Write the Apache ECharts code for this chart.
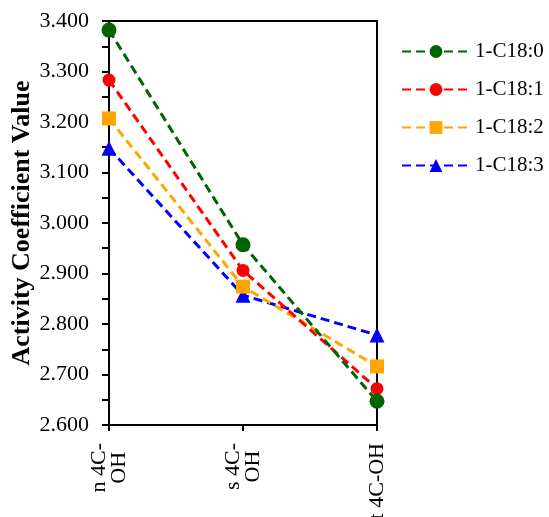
<!DOCTYPE html>
<html><head><meta charset="utf-8">
<script src="https://cdn.jsdelivr.net/npm/echarts@6/dist/echarts.min.js"></script>
<style>html,body{margin:0;padding:0;background:#fff}#c{width:549px;height:517px}</style>
</head><body><div id="c"></div>
<script>
const categories = ['n 4C-\nOH', 's 4C-\nOH', 't 4C-OH'];
const seriesNames = ['1-C18:0', '1-C18:1', '1-C18:2', '1-C18:3'];
const c180 = [3.382, 2.957, 2.647];
const c181 = [3.283, 2.906, 2.672];
const c182 = [3.207, 2.874, 2.716];
const c183 = [3.148, 2.857, 2.778];
const yTicks = { min: 2.6, max: 3.4, interval: 0.1 };

const font = 'Liberation Serif, Times New Roman, serif';
const colors = ['#006400', '#FF0000', '#FFA500', '#0000FF'];
const symbols = ['circle', 'circle', 'rect', 'triangle'];
const sizes = [15, 13, 14, 15];
const data = [c180, c181, c182, c183];

const chart = echarts.init(document.getElementById('c'));
chart.setOption({
  animation: false,
  backgroundColor: '#fff',
  grid: { left: 109, right: 172, top: 21, bottom: 92, containLabel: false, outerBoundsMode: 'none', show: true, borderColor: '#000', borderWidth: 2, backgroundColor: 'transparent' },
  legend: {
    orient: 'vertical', left: 396, top: 36,
    itemWidth: 68, itemHeight: 16, itemGap: 17,
    textStyle: { fontFamily: font, fontSize: 21, color: '#000', lineHeight: 21 },
    data: seriesNames
  },
  xAxis: {
    type: 'category', data: categories, boundaryGap: false,
    axisLine: { lineStyle: { color: '#000', width: 2 } },
    axisTick: { show: true, inside: false, length: 6, alignWithLabel: true, lineStyle: { color: '#000', width: 2 } },
    axisLabel: {
      rotate: 90, margin: 18, interval: 0,
      formatter: v => v.split('\n').map(s => '{a|' + s + '}').join('\n'),
      rich: { a: { align: 'center', fontFamily: font, fontSize: 22, lineHeight: 20, color: '#000' } }
    },
    splitLine: { show: false }
  },
  yAxis: {
    type: 'value', min: yTicks.min, max: yTicks.max, interval: yTicks.interval,
    name: 'Activity Coefficient Value', nameLocation: 'middle', nameGap: 74,
    nameTextStyle: { fontFamily: font, fontSize: 26, fontWeight: 'bold', color: '#000' },
    axisLine: { show: true, lineStyle: { color: '#000', width: 2 } },
    axisTick: { show: true, inside: false, length: 7, lineStyle: { color: '#000', width: 2 } },
    minorTick: { show: true, splitNumber: 2, length: 7, lineStyle: { color: '#000', width: 2 } },
    axisLabel: { margin: 20, fontFamily: font, fontSize: 22, color: '#000', formatter: v => v.toFixed(3) },
    splitLine: { show: false }
  },
  series: seriesNames.map((n, i) => ({
    name: n, type: 'line', data: data[i],
    symbol: symbols[i], symbolSize: sizes[i],
    itemStyle: { color: colors[i] },
    lineStyle: { color: colors[i], width: 3, type: [9, 5] },
    z: 10 - i
  }))
});
</script></body></html>
